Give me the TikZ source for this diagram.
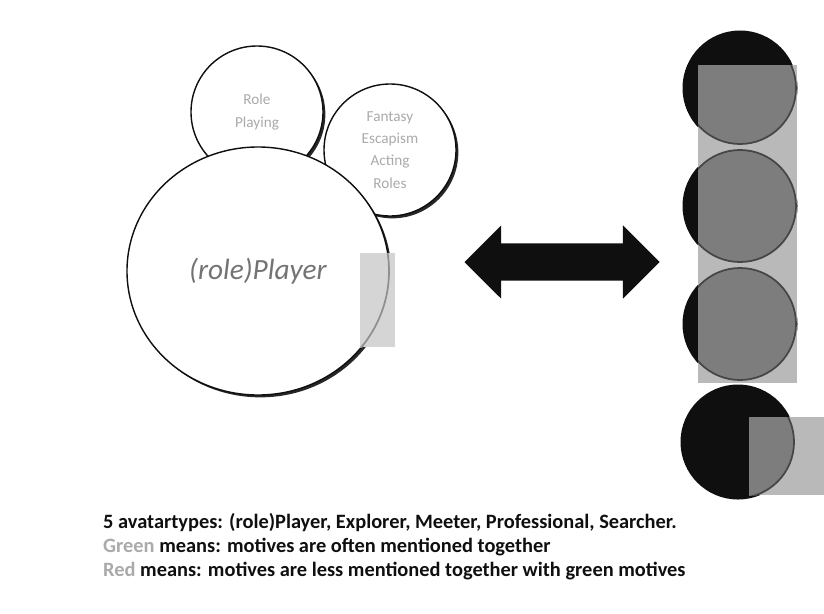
\documentclass[tikz,border=0pt]{standalone}
\usepackage{fontspec}
\setmainfont{Carlito}
\usepackage{xcolor}
\usetikzlibrary{shapes.geometric,shapes.arrows,shadows}
\definecolor{ink}{RGB}{15,15,15}
\definecolor{faint}{RGB}{170,170,170}
\definecolor{panel}{RGB}{185,185,185}
\definecolor{face}{RGB}{125,125,125}
\definecolor{rim}{RGB}{70,70,70}
\tikzstyle{bubble}=[circle, draw=ink, line width=1.2pt, fill=white, drop shadow={shadow xshift=2pt, shadow yshift=-2pt, fill=ink, opacity=.9}]
\tikzstyle{motive}=[text=faint, align=center, font=\fontsize{13}{19}\selectfont]
\tikzstyle{avatar}=[circle, fill=ink, minimum size=3.45cm, inner sep=0pt]
\tikzset{legendline/.style={anchor=base west, inner sep=0pt, font=\fontsize{17.4}{20}\selectfont\bfseries, text=ink}}

\begin{document}
\begin{tikzpicture}[x=0.03cm, y=-0.03cm]
  \useasboundingbox (0,0) rectangle (824,613);
  %% Motive bubbles
  \draw (257,112) node[bubble, motive, minimum size=3.96cm] (roleplay) {Role\\Playing};
  \draw (390,150) node[bubble, motive, minimum size=3.96cm] (escape) {Fantasy\\Escapism\\Acting\\Roles};
  \draw (258,271) node[bubble, ellipse, minimum width=7.86cm, minimum height=7.44cm, text=black!55, font=\fontsize{25}{30}\selectfont\itshape] (player) {(role)Player};

  \begin{scope}
    \clip (360,253) rectangle (395,347);
    \fill[panel!60] (360,253) rectangle (395,347);
    \draw[rim!60, line width=1.5pt] (player.center) ellipse [x radius=3.93cm, y radius=3.72cm];
  \end{scope}

  %% Link
  \draw (562,262) node[double arrow, fill=ink, minimum height=5.85cm, inner xsep=0pt, inner ysep=0.555cm, double arrow head extend=0.54cm] (link) {};

  %% Avatar column
  \draw (740,88) node[avatar] (A1) {};
  \draw (740,206) node[avatar] (A2) {};
  \draw (740,324) node[avatar] (A3) {};
  \draw (738,442) node[avatar] (A4) {};

  \begin{scope}
    \clip (698,65) rectangle (797,383);
    \fill[panel] (698,65) rectangle (797,383);
    \foreach \a in {A1,A2,A3}
      \draw[fill=face, draw=rim, line width=1.5pt] (\a.center) circle [radius=1.68cm];
  \end{scope}
  \begin{scope}
    \clip (749,417) rectangle (824,495);
    \fill[panel] (749,417) rectangle (824,495);
    \draw[fill=face, draw=rim, line width=1.5pt] (A4.center) circle [radius=1.68cm];
  \end{scope}

  %% Legend things
  \draw (103,528) node[legendline] (legendA) {5 avatartypes: (role)Player, Explorer, Meeter, Professional, Searcher.};
  \draw (103,552) node[legendline] (legendB) {\textcolor{faint}{Green} means: motives are often mentioned together};
  \draw (103,576) node[legendline] (legendC) {\textcolor{faint}{Red} means: motives are less mentioned together with green motives};
\end{tikzpicture}
\end{document}
